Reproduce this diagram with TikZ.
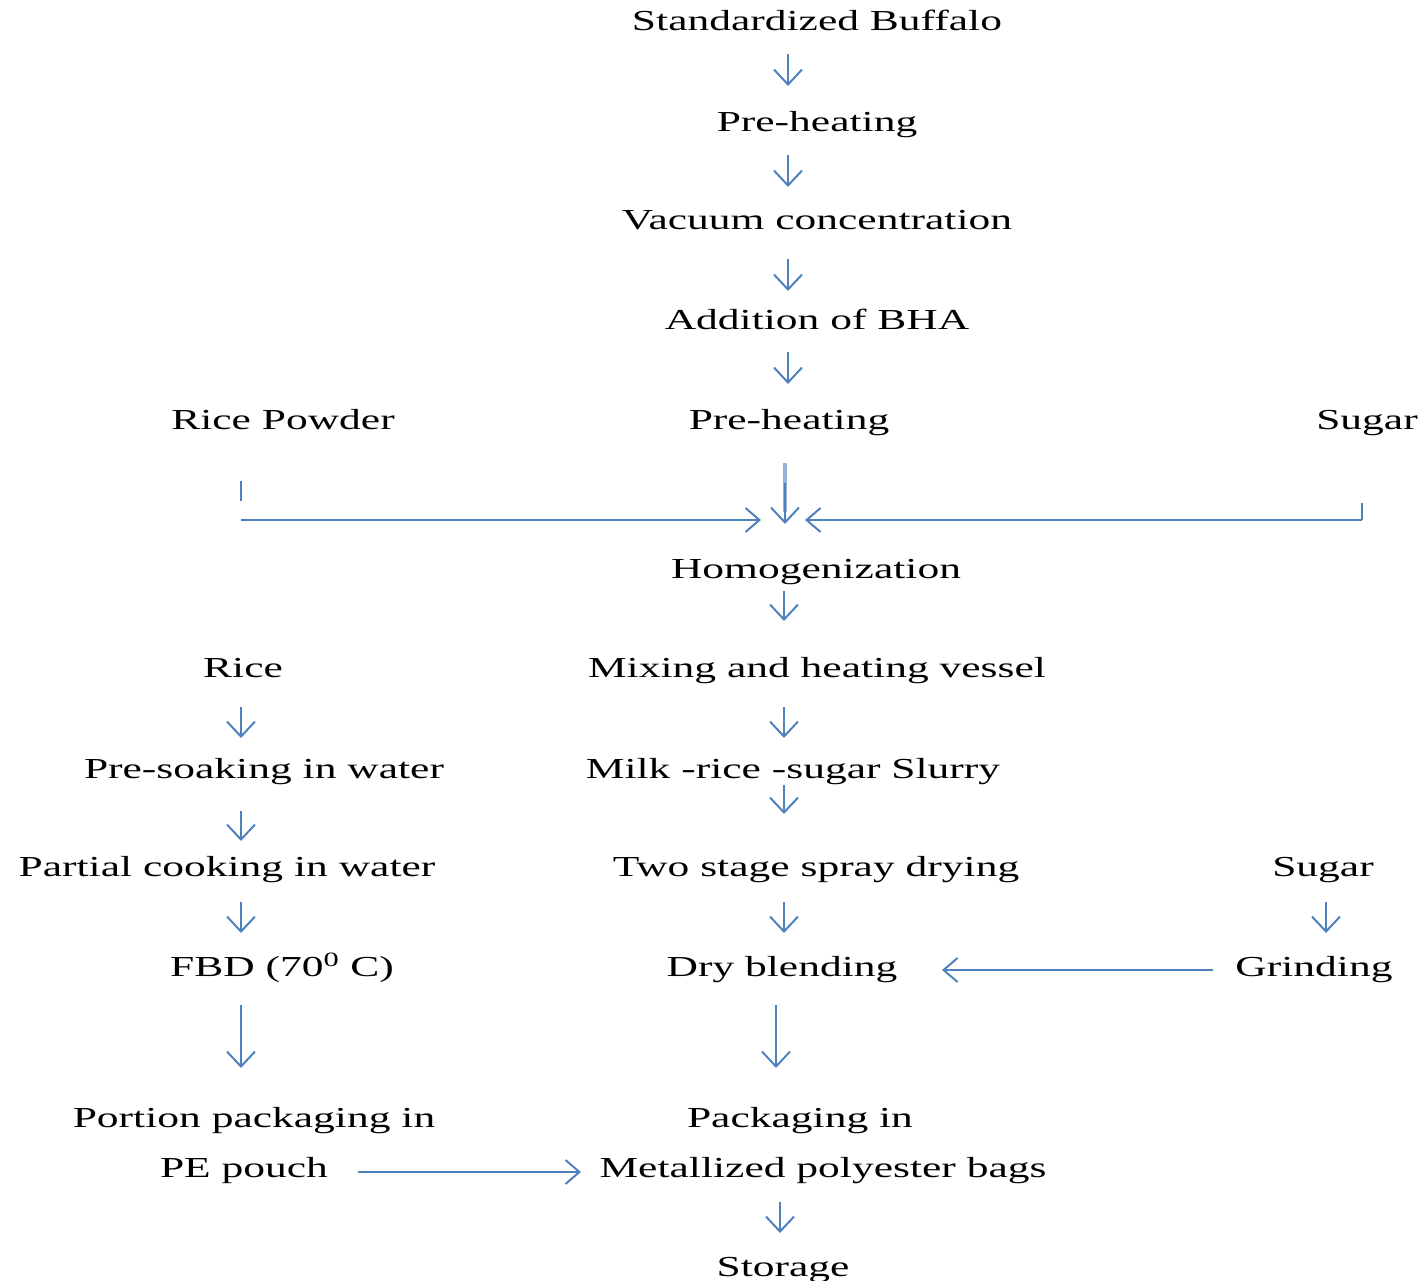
\documentclass[tikz,border=0pt]{standalone}
\usepackage{fontspec}
\setmainfont{Liberation Serif}[FakeStretch=1.5]
\usetikzlibrary{arrows.meta,calc}
\definecolor{flowblue}{RGB}{79,129,189}
\definecolor{flowlight}{RGB}{150,180,215}
\begin{document}
\begin{tikzpicture}[x=1pt,y=-1pt,
  lbl/.style={anchor=base,inner sep=0pt,font=\fontsize{29}{34}\selectfont,text=black},
  arr/.style={draw=flowblue,line width=2.5pt,-{Straight Barb[length=15pt,width=28pt,line width=2pt]}},
  plain/.style={draw=flowblue,line width=2pt},
  harr/.style={draw=flowblue,line width=2pt,-{Straight Barb[length=14pt,width=24pt,line width=2pt]}}]
\useasboundingbox (0,0) rectangle (1422,1281);
% text nodes
\node[lbl] (sb) at (817,31) {Standardized Buffalo};
\node[lbl] (ph1) at (817,132) {Pre-heating};
\node[lbl] (vc) at (817,230) {Vacuum concentration};
\node[lbl] (bha) at (817,330) {Addition of BHA};
\node[lbl] (rp) at (283,429) {Rice Powder};
\node[lbl] (ph2) at (789,429) {Pre-heating};
\node[lbl] (sug1) at (1367,429) {Sugar};
\node[lbl] (hom) at (816,578) {Homogenization};
\node[lbl] (rice) at (243,677) {Rice};
\node[lbl] (mix) at (817,677) {Mixing and heating vessel};
\node[lbl] (soak) at (264,778) {Pre-soaking in water};
\node[lbl] (slur) at (793,778) {Milk -rice -sugar Slurry};
\node[lbl] (cook) at (227,876) {Partial cooking in water};
\node[lbl] (spray) at (816,876) {Two stage spray drying};
\node[lbl] (sug2) at (1323,876) {Sugar};
\node[lbl] (fbd) at (282,976) {FBD (70\textsuperscript{0} C)};
\node[lbl] (dry) at (782,976) {Dry blending};
\node[lbl] (grind) at (1314,976) {Grinding};
\node[lbl] (port1) at (254,1127) {Portion packaging in};
\node[lbl] (pack1) at (800,1127) {Packaging in};
\node[lbl] (port2) at (244,1177) {PE pouch};
\node[lbl] (pack2) at (823,1177) {Metallized polyester bags};
\node[lbl] (stor) at (783,1276) {Storage};
% connector end points
\coordinate (a1s) at (788,54);   \coordinate (a1e) at (788,86);
\coordinate (a2s) at (788,155);  \coordinate (a2e) at (788,187);
\coordinate (a3s) at (788,259);  \coordinate (a3e) at (788,291);
\coordinate (a4s) at (788,352);  \coordinate (a4e) at (788,384);
\coordinate (lt1) at (241,481);  \coordinate (lt2) at (241,501);
\coordinate (lh1) at (241,520);  \coordinate (lh2) at (761,520);
\coordinate (cs) at (785,463);   \coordinate (ce) at (785,524);
\coordinate (cm) at (785,483);   \coordinate (cl) at (785,512);
\coordinate (rt1) at (1362,503); \coordinate (rt2) at (1362,520);
\coordinate (rh2) at (805,520);
\coordinate (a5s) at (784,591);  \coordinate (a5e) at (784,621);
\coordinate (a6s) at (241,707);  \coordinate (a6e) at (241,738);
\coordinate (a7s) at (784,707);  \coordinate (a7e) at (784,738);
\coordinate (a8s) at (241,811);  \coordinate (a8e) at (241,841);
\coordinate (a9s) at (784,785);  \coordinate (a9e) at (784,814);
\coordinate (a10s) at (241,902); \coordinate (a10e) at (241,933);
\coordinate (a11s) at (784,902); \coordinate (a11e) at (784,933);
\coordinate (a12s) at (1326,902);\coordinate (a12e) at (1326,933);
\coordinate (g1) at (1213,970);  \coordinate (g2) at (942,970);
\coordinate (a13s) at (241,1005);\coordinate (a13e) at (241,1068);
\coordinate (a14s) at (776,1005);\coordinate (a14e) at (776,1068);
\coordinate (pe1) at (358,1172); \coordinate (pe2) at (581,1172);
\coordinate (a15s) at (780,1202);\coordinate (a15e) at (780,1233);
% connectors
\draw[arr] (a1s) -- (a1e);
\draw[arr] (a2s) -- (a2e);
\draw[arr] (a3s) -- (a3e);
\draw[arr] (a4s) -- (a4e);
\draw[plain] (lt1) -- (lt2);
\draw[harr] (lh1) -- (lh2);
\draw[draw=flowlight,line width=4pt] (cs) -- (cl);
\draw[arr] (cm) -- (ce);
\draw[plain] (rt1) -- (rt2);
\draw[harr] (rt2) -- (rh2);
\draw[arr] (a5s) -- (a5e);
\draw[arr] (a6s) -- (a6e);
\draw[arr] (a7s) -- (a7e);
\draw[arr] (a8s) -- (a8e);
\draw[arr] (a9s) -- (a9e);
\draw[arr] (a10s) -- (a10e);
\draw[arr] (a11s) -- (a11e);
\draw[arr] (a12s) -- (a12e);
\draw[harr] (g1) -- (g2);
\draw[arr] (a13s) -- (a13e);
\draw[arr] (a14s) -- (a14e);
\draw[harr] (pe1) -- (pe2);
\draw[arr] (a15s) -- (a15e);
\end{tikzpicture}
\end{document}
